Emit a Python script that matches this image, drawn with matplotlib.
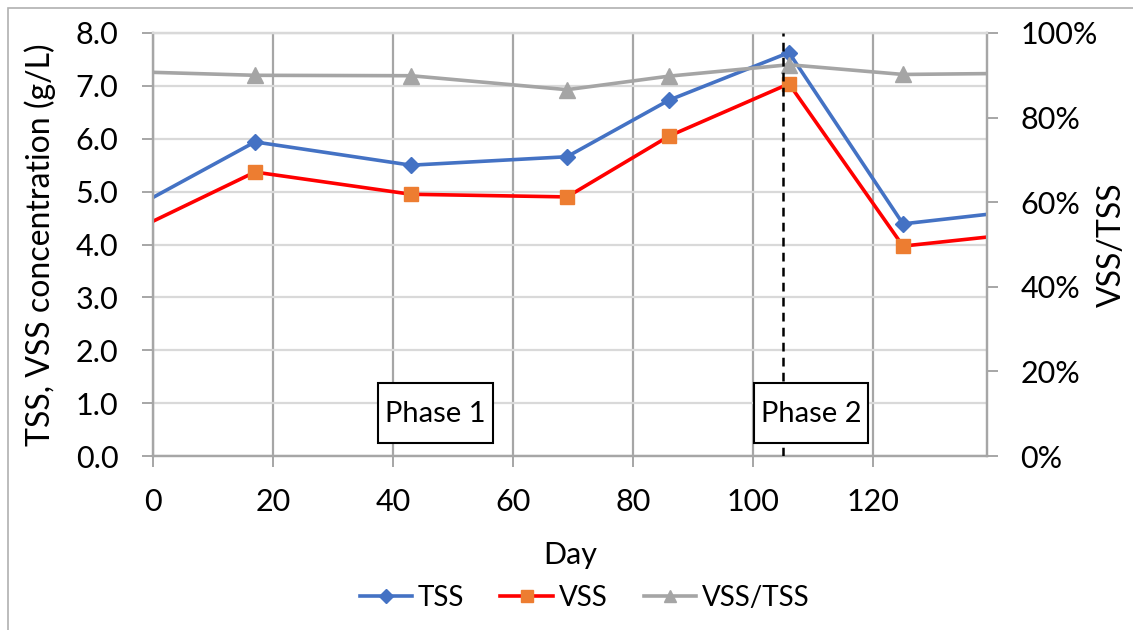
import numpy as np
import matplotlib.pyplot as plt
from matplotlib.ticker import FuncFormatter
from matplotlib.patches import Rectangle

plt.rcParams['font.family'] = ['Lato', 'DejaVu Sans']
plt.rcParams['font.size'] = 20

# data (end points sit on the axis edges, no markers there)
days = [0, 17, 43, 69, 86, 106, 125, 139]
tss = [4.89, 5.94, 5.50, 5.66, 6.73, 7.63, 4.39, 4.57]
vss = [4.44, 5.37, 4.95, 4.90, 6.05, 7.04, 3.97, 4.14]
ratio = [0.907, 0.900, 0.899, 0.866, 0.898, 0.925, 0.902, 0.904]
phase_change = 105
phase_labels = ['Phase 1', 'Phase 2']

C_TSS = '#4472C4'
C_VSS = '#FF0000'
C_VSS_MK = '#ED7D31'
C_RAT = '#A5A5A5'
GRID_H = '#D9D9D9'
GRID_V = '#A6A6A6'

fig = plt.figure(figsize=(11.33, 6.3), dpi=100)
ax = fig.add_axes([153 / 1133, 1 - 456 / 630, (987 - 153) / 1133, (456 - 33) / 630])
ax2 = ax.twinx()

mk = slice(1, -1)
l1, = ax.plot(days, tss, color=C_TSS, lw=2.6, marker='D', ms=8.5, markevery=mk,
              markerfacecolor=C_TSS, markeredgecolor=C_TSS, zorder=4, label='TSS')
l2, = ax.plot(days, vss, color=C_VSS, lw=2.6, marker='s', ms=10, markevery=mk,
              markerfacecolor=C_VSS_MK, markeredgecolor=C_VSS_MK, zorder=4, label='VSS')
l3, = ax2.plot(days, ratio, color=C_RAT, lw=2.6, marker='^', ms=11, markevery=mk,
               markerfacecolor=C_RAT, markeredgecolor=C_RAT, zorder=3, label='VSS/TSS')
ax2.axvline(phase_change, color='black', lw=1.8, ls=(0, (3.5, 2.5)), zorder=5)

ax.set_xlim(0, 139)
ax.set_ylim(0, 8)
ax2.set_ylim(0, 1)

ax.set_xticks(np.arange(0, 121, 20))
ax.set_yticks(np.arange(0, 8.1, 1))
ax.yaxis.set_major_formatter(FuncFormatter(lambda v, p: f'{v:.1f}'))
ax2.set_yticks(np.arange(0, 1.01, 0.2))
ax2.yaxis.set_major_formatter(FuncFormatter(lambda v, p: f'{v * 100:.0f}%'))

ax.grid(axis='y', color=GRID_H, lw=1.6)
ax.grid(axis='x', color=GRID_V, lw=1.6)
ax.set_axisbelow(True)

ax.tick_params(axis='x', direction='out', length=8, width=1.4, color=GRID_V, pad=15, labelsize=22)
ax.tick_params(axis='y', direction='out', length=8, width=1.4, color=GRID_V, pad=17, labelsize=22)
ax2.tick_params(axis='y', direction='out', length=8, width=1.4, color=GRID_V, pad=16, labelsize=22)

for a in (ax, ax2):
    for s in a.spines.values():
        s.set_color(GRID_V)
        s.set_linewidth(1.6)
    a.spines['top'].set_color(GRID_H)

ax.set_xlabel('Day', fontsize=22, labelpad=18)
ax.set_ylabel('TSS, VSS concentration (g/L)', fontsize=23, va='center')
ax.yaxis.set_label_coords((40 - 153) / 834, 0.5)
ax2.set_ylabel('VSS/TSS', fontsize=23, va='center')
ax2.yaxis.set_label_coords((1112 - 153) / 834, 0.5)

# phase boxes, drawn above the dashed divider
for (x0, x1), label in zip([(37.5, 56.7), (100.2, 119.2)], phase_labels):
    ax2.add_patch(Rectangle((x0, 0.25), x1 - x0, 1.14, transform=ax.transData,
                            facecolor='white', edgecolor='black', lw=1.5, zorder=8))
    ax2.text((x0 + x1) / 2, 0.80, label, transform=ax.transData, ha='center', va='center',
             fontsize=21, zorder=9)

fig.legend([l1, l2, l3], ['TSS', 'VSS', 'VSS/TSS'], loc='center',
           bbox_to_anchor=(0.516, 0.051), ncol=3, frameon=False, fontsize=20,
           handlelength=1.9, handletextpad=0.2, columnspacing=1.3, markerscale=0.8)

fig.patches.append(Rectangle((8 / 1133, -0.1), 1.2, 1.1 - 8 / 630, transform=fig.transFigure,
                             fill=False, edgecolor='#B0B0B0', lw=1.2))

fig.savefig('out.png', dpi=100)
